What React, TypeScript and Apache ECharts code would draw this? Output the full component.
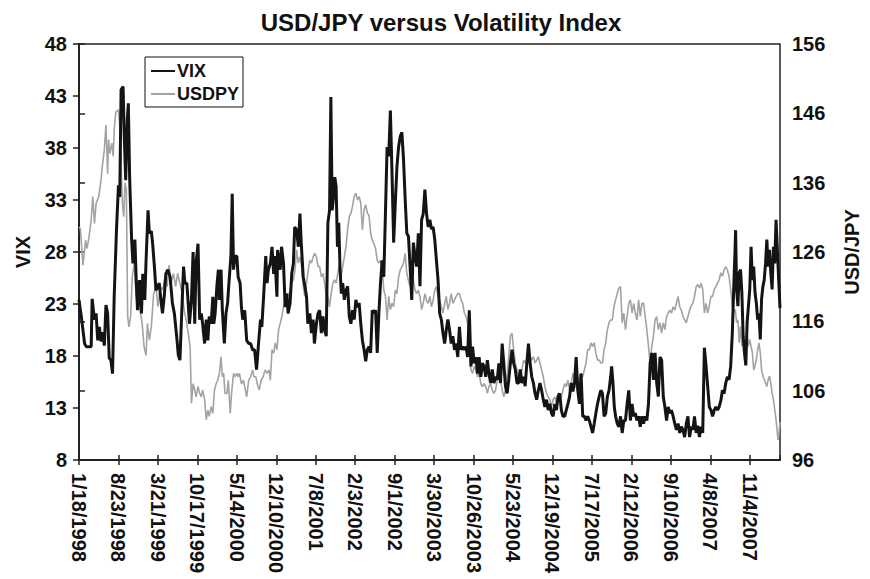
import React, { useEffect, useRef } from "react";
import * as echarts from "echarts";

// Observation index (0 = 1/18/1998, weekly) — a label every 30 observations
const tickLabels = [
  "1/18/1998", "8/23/1998", "3/21/1999", "10/17/1999", "5/14/2000", "12/10/2000",
  "7/8/2001", "2/3/2002", "9/1/2002", "3/30/2003", "10/26/2003", "5/23/2004",
  "12/19/2004", "7/17/2005", "2/12/2006", "9/10/2006", "4/8/2007", "11/4/2007",
];
const LAST_INDEX = 533;

// VIX: [observation index, value]
const vix: number[][] = [
  [0,23.4],[1.75,21.8],[4.25,19.2],[5.5,18.9],[9.25,18.9],[10,23.5],[11.75,21.5],[13,22.1],[14.25,19.5],[15.5,20.8],
  [16.75,19.4],[18,20.3],[19.25,19],[20.5,22.9],[21.75,22.1],[23,17.8],[24.25,17.6],[25.5,16.3],[26.75,23.7],[28.5,30.1],
  [30,34.4],[31,33.3],[32,43.6],[33.5,43.9],[34.5,38.8],[35.5,34.9],[36.75,40.7],[37.5,42.3],[38.5,35.2],[40,29.2],
  [41,26.9],[42.5,29.2],[43.5,25.3],[44.5,22.4],[46,25.3],[47.5,22.1],[48.5,25.9],[50,23.4],[51,27.2],[52.5,32],
  [53.5,29.8],[55,30],[56,28.8],[57.5,26.3],[58.5,24.3],[60,24.7],[61,25],[62.5,23.1],[63.5,22.1],[65,24],
  [66,25.9],[67.5,26.3],[69.25,25.6],[71,23.1],[72.5,22.1],[74.25,19.9],[75.5,18.1],[76.75,17.6],[78,21.8],[79.5,26.6],
  [80.5,25],[82,25],[83,23.1],[84,21.1],[85.5,23.4],[86.75,28],[88,21.1],[89,26.9],[90.5,28.8],[91.75,21.5],
  [93,22.1],[94,21.1],[95.5,19.2],[96.75,21.5],[98,19.5],[99,21.8],[100.5,21.1],[101.75,23.7],[102.5,21.1],[103.5,22.1],
  [105,25],[106,26.3],[106.75,23.4],[108,26.3],[109,22.4],[110.5,19.2],[111.75,22.1],[113,23.1],[114,25],[115.5,27.6],
  [116.5,33.6],[117.5,26.3],[118.5,27.6],[120,27.6],[121,25.6],[122.5,25],[123.5,22.7],[124.5,21.5],[126,22.4],[127.5,19.5],
  [129,19.2],[130.5,19.2],[132,18.6],[133.5,18.6],[135,16.7],[136.5,19.2],[138,21.5],[139,20.8],[140.5,24],[142,27.6],
  [143,25],[144,26.3],[145.5,26.9],[146.75,28.5],[148,25.9],[149,27.6],[150.5,23.7],[151,28.2],[153,26.3],[154,28.5],
  [155.5,26.9],[156.75,22.7],[158,24],[159,22.1],[160.5,23.1],[161.75,25.9],[163,26.9],[164,30.4],[165.5,30.1],[166.75,28.5],
  [168,31.7],[169,28.8],[170.5,25.6],[171.75,24.7],[173,23.7],[174,21.1],[175.5,22.1],[176.75,20.2],[178,21.5],[179,19.2],
  [180.5,21.1],[181.75,22.1],[183,22.4],[184.25,20.2],[185.5,21.8],[186.75,20.5],[188,19.9],[189.25,30.8],[190.5,32],[191.5,42.9],
  [192.5,32],[193.5,33.3],[194.5,35.2],[195.5,34.3],[196.5,28.5],[197.5,30.8],[198.5,26.3],[199.5,24],[200.5,25],[201.75,23.4],
  [203,24.3],[204.25,24.7],[205.5,21.8],[206.75,21.1],[208,22.4],[209.25,21.5],[210.5,23.4],[211.75,22.7],[213,23.1],[214.25,21.1],
  [215.5,19.5],[216.75,18.6],[218,17.5],[219.25,18.6],[220.5,18.9],[221.75,18.3],[223,22.4],[224.25,22.1],[225.5,22.4],[226.75,18.3],
  [228,22.1],[229.25,25],[230.5,27.2],[231.75,25.6],[233,31.7],[234.25,38.1],[235.5,37.2],[236.75,41.6],[238,35.6],[239.25,28.9],
  [240.5,32.7],[241.75,36.2],[243,38.1],[244.25,39.1],[245.5,39.5],[246.75,36.9],[248,33.1],[249.25,29.8],[250.5,29.5],[251.75,26.6],
  [253,23.4],[254.25,28.9],[255.5,27.6],[256.75,26.6],[258,29.8],[259.25,24.7],[260.5,31.1],[261.75,31.7],[263,34],[264.25,31.7],
  [265.5,30.4],[266.75,31.1],[268,30.2],[269.25,30.4],[270.5,29.2],[271.75,27.2],[273,25.3],[274.25,22.1],[275.5,21.5],[276.75,20.2],
  [278,19.2],[279.25,20.5],[280.5,21.5],[281.75,20.5],[283,19.2],[284.25,19.9],[285.5,18.6],[286.75,19.2],[288,17.9],
  [289.25,20.8],[290.5,18.6],[291.75,18.9],[293,18.6],[294.25,18.9],[295.5,17.9],[296.75,22.4],[298,17],[299.25,18.9],[300.5,17.3],
  [301.75,17.9],[303,16.3],[304.25,17.9],[305.5,16],[306.75,17.3],[308,17],[309.25,16],[310.5,17.6],[311.75,16.3],[313,15.4],
  [314.25,16.7],[315.5,15.4],[316.75,16],[318,15.7],[319.25,17.3],[320.5,15.4],[321.75,19.2],[323,17.3],[324.25,15.1],[325.5,14.4],
  [326.75,15.7],[328,17.3],[329.25,18.6],[330.5,17.3],[331.75,16.7],[333,15.4],[334.25,15.4],[335.5,16.7],[336.75,15.4],[338,16],
  [339.25,15.1],[340.5,17.3],[341.75,19.2],[343,17.3],[344.25,16],[345.5,15.4],[346.75,14.4],[348,13.8],[349.25,14.7],[350.5,15.4],
  [351.75,14.7],[353,13.8],[354.25,13.1],[355.5,13.8],[356.75,12.8],[358,13.4],[359.25,12.5],[360.5,12.2],[361.75,13.4],[363,12.8],
  [364.25,14.1],[365.5,14.4],[366.75,12.8],[368,12.2],[369.25,12.2],[370.5,12.8],[371.75,13.4],[373,14.1],[374.25,15.4],[375.5,14.6],
  [376.75,15.4],[378,17.9],[379.25,14.7],[380.5,13.4],[381.75,16.3],[383,12.2],[384.25,12.2],[385.5,11.8],[386.75,12.2],[388,11.8],
  [389.25,11.2],[390.5,10.6],[391.75,11.5],[393,12.5],[394.25,13.4],[395.5,14.1],[396.75,14.7],[398,14.4],[399.25,12.2],[400.5,12.5],
  [401.75,14.1],[403,14.7],[404.25,16],[405,17],[406,15.4],[407,13.1],[408,12.2],[409.25,11.5],[410.5,11.2],[411.75,12.2],
  [413,10.6],[414.25,11.8],[415.5,11.8],[416.75,13.4],[418,14.7],[419.25,11.8],[420.5,13.4],[421.75,12.2],[423,12.5],[424.25,11.8],
  [425.5,12.2],[426.75,11.2],[428,12.2],[429.25,11.5],[430.5,12.2],[431.75,11.8],[433,13.4],[434.25,17.3],[435.5,18.3],[436.75,15.7],
  [438,18.3],[439.25,15.4],[440.5,14.1],[441.75,17.9],[443,17.6],[444.25,14.1],[445.5,13.1],[446.75,11.8],[448,13.1],[449.25,12.5],
  [450.5,12.8],[451.75,12.2],[453,11.5],[454.25,10.9],[455.5,11.5],[456.75,10.6],[458,11.2],[459.25,10.9],[460.5,10.2],[461.75,11.5],
  [463,12.2],[464.25,10.2],[465.5,11.2],[466.75,10.9],[468,12.2],[469.25,10.6],[470.5,11.3],[471.75,10.2],[473,11.2],[474.25,10.6],
  [475.5,18.8],[476.75,17.1],[478,15.1],[479.25,13.1],[480.5,12.8],[481.75,12.2],[483,12.8],[484.25,13.1],[485.5,12.8],[486.75,13.1],
  [488,13.7],[489.25,14.7],[490.5,14.4],[491.75,15.4],[493,16],[494.25,15.7],[495.5,17],[496.75,20.2],[498,25.3],[498.75,27.9],
  [499.25,30.1],[500,24.4],[501,22.8],[502,26],[503,26.3],[504,24.1],[505,19.9],[506,18.3],[507,17.1],[508,21.2],
  [509,22.8],[510,24.4],[511,28.5],[512,25.3],[513,26.6],[514,24.1],[515,23.1],[516,21.5],[517,22.1],[518,19.6],
  [519,23.5],[520,24.7],[521,25.3],[522,26.9],[523,29.2],[524,26.6],[525,28.2],[526,26],[527,24.4],[528,28.5],
  [529,26.9],[530,31.1],[531,28.2],[532,25.3],[533,22.6],
];

// USD/JPY: [observation index, value]
const usdjpy: number[][] = [
  [0,129.6],[1,129.4],[3,124.1],[4.25,126.3],[5,127.7],[6,126.5],[7.5,128],[9.25,130.6],[10.5,134],[11.75,130.1],
  [13,133],[15,134],[16.75,136.4],[18,138.8],[19.25,140.7],[20.5,144.3],[21.75,137.3],[22.5,142.2],[23.5,140.2],[25,141.7],
  [26,139.8],[26.75,143.6],[28,146.2],[30,146.5],[31,144.1],[32,138.8],[33,133],[34,131.1],[35,136],[36,135],
  [37,116.7],[38,115.2],[39.25,116.7],[40.5,122.4],[42,124.4],[43.5,119.6],[45,120.5],[46.5,117.6],[48,115.7],[49.5,112.3],
  [51,111.1],[52,115.7],[53.5,113.3],[55,115.2],[56.75,120],[58.5,121],[60,118.1],[61.75,121],[63.5,120.5],[65.5,122.4],
  [67,121],[68.5,124.1],[70,121.5],[71.75,122.9],[73.5,121],[75,122.9],[76.75,121.5],[78.5,120],[80,117.6],[81.5,116.2],
  [83,114.4],[84.5,112.3],[85.5,104.2],[86.75,107],[88,106.1],[89,105.1],[90.5,106.6],[91.75,105.6],[93,105.1],[94,106.1],
  [95.5,104.7],[96.75,101.8],[98,103.2],[99,102.3],[100.5,103.7],[101.75,102.7],[103,106.1],[104.25,107],[105.5,107.5],[106.75,108.5],
  [108,110.9],[109,108],[110,108.5],[111,105.6],[112.5,105.6],[113.5,107.5],[115,102.7],[116,105.6],[117.5,108.5],[118.5,108],
  [120,108.5],[121,108],[122,108.5],[123.5,107],[125,107.5],[126.5,106.1],[127.5,105.1],[129,107.5],[130.5,108],[132,109],
  [133,108],[134.5,108],[136,106.6],[137,106.1],[138.5,107.5],[140,108],[141.5,109],[143,108.5],[144.5,109],[145.5,107.5],
  [146.75,111.9],[148,111.4],[149.25,112.9],[150.5,111.9],[151.75,114.8],[153,115.7],[154.25,116.7],[155.5,118.1],[156.75,119.1],[158,120],
  [159.25,119.6],[160.5,120.5],[161.75,121.5],[163,122],[164.25,123.4],[165.5,126.3],[166.75,124.4],[168,125.3],[169.25,123.9],[170.5,121],
  [171.75,119.6],[173,121.5],[174.25,123.4],[175.5,124.8],[176.75,124.4],[178,125.3],[179.25,125.8],[180.5,125.3],[181.75,123.9],[183,123.9],
  [184.25,122.4],[185.5,122.9],[186.75,121.5],[188,119.6],[189.25,119.6],[190.5,118.1],[191.75,120],[193,121.5],[194.25,122],[195.5,121.5],
  [196.75,122.9],[198,124.4],[199.25,122.4],[200.5,123.9],[201.75,125.3],[203,126.8],[204.25,129.2],[205.5,131.1],[206.75,131.6],[208,132.6],
  [209.25,134],[210.5,134.5],[211.75,133.5],[213,134],[214.25,133],[215.5,129.2],[216.75,132.1],[218,132.8],[219.25,131.6],[220.5,131.3],
  [221.75,128.7],[223,127.7],[224.25,127.2],[225.5,126.5],[226.75,124.8],[228,124.4],[229.25,124.8],[230.5,123.6],[231.75,120.5],[233,119.6],
  [234.25,116.2],[235.5,119.6],[236.75,117.7],[238,118.6],[239.25,118.1],[240.5,120.5],[241.75,120],[243,122.4],[244.25,123.4],[245.5,123.9],
  [246.75,124.4],[248,125.8],[249.25,122.9],[250.5,121.9],[251.75,121],[253,123.9],[254.25,121.9],[255.5,120.5],[256.75,120],[258,120.5],
  [259.25,119.6],[260.5,117.7],[261.75,118.6],[263,120],[264.25,119],[265.5,118.6],[266.75,119.6],[268,118.1],[269.25,119],[270.5,120.5],
  [271.75,121],[273,119.6],[274.25,119],[275.5,118.1],[276.75,117.2],[278,118.5],[279.25,119.6],[280.5,117.7],[281.75,118.6],[283,120],
  [284.25,118.6],[285.5,119.1],[286.75,119.6],[288,120],[289.25,120],[290.5,119.1],[291.75,118.6],[293,117.2],[294.25,116.7],[295.5,115.7],
  [296.75,112.4],[298,109],[299.25,108.5],[300.5,109.5],[301.75,109],[303,108],[304.25,108.5],[305.5,107],[306.75,106.6],[308,107],
  [309.25,106.6],[310.5,105.6],[311.75,106.6],[313,107],[314.25,106.1],[315.5,105.6],[316.75,106.1],[318,107.5],[319.25,108.5],[320.5,107.5],
  [321.75,106.1],[323,105.1],[324.25,106.1],[325.5,108],[326.75,110.9],[328,113.9],[329.25,114.3],[330.5,111.9],[331.75,110],[333,109],
  [334.25,108],[335.5,107.5],[336.75,109],[338,110.4],[339.25,110],[340.5,110.4],[341.75,110],[343,110.9],[344.25,110.4],[345.5,110.9],
  [346.75,110],[348,110.4],[349.25,110.9],[350.5,110],[351.75,109],[353,108],[354.25,106.6],[355.5,105.6],[356.75,105.1],[358,104.7],
  [359.25,103.7],[360.5,104.7],[361.75,105.1],[363,104.2],[364.25,105.6],[365.5,104.7],[366.75,105.1],[368,106.1],[369.25,107],[370.5,106.6],
  [371.75,107.5],[373,106.1],[374.25,107],[375.5,108.5],[376.75,107.8],[378,106.5],[379.25,106],[380.5,108],[381.75,108.5],[383,108],
  [384.25,109],[385.5,110],[386.75,111.9],[388,111.9],[389.25,112.9],[390.5,112.4],[391.75,112.9],[393,111.4],[394.25,110.4],[395.5,110.4],
  [396.75,110],[398,110],[399.25,111.9],[400.5,112.9],[401.75,114.8],[403,115.8],[404.25,116.2],[405.5,116.2],[406.75,118.1],[408,119.1],
  [409.25,120],[410.5,120.8],[411.75,121],[413,115.8],[414.25,117.2],[415.5,114.8],[416.75,116.7],[418,118.6],[419.25,119.1],[420.5,117.2],
  [421.75,118.6],[423,117.2],[424.25,116.2],[425.5,119.1],[426.75,116.7],[428,118.6],[429.25,118.6],[430.5,116.7],[431.75,114.8],[433,112.4],
  [434.25,110],[435.5,112.4],[436.75,113.8],[438,116.2],[439.25,116.7],[440.5,114.8],[441.75,115.8],[443,114.3],[444.25,115.8],[445.5,114.8],
  [446.75,116.7],[448,117.2],[449.25,117.6],[450.5,117.2],[451.75,118.1],[453,117.6],[454.25,118.6],[455.5,119.6],[456.75,118.1],[458,117.6],
  [459.25,116.7],[460.5,116.2],[461.75,115.8],[463,116.7],[464.25,117.6],[465.5,118.3],[466.75,118.6],[468,119.6],[469.25,121],[470.5,121.3],
  [471.75,120.8],[473,121.5],[474.25,120.6],[475.5,117.2],[476.75,118.6],[478,117.2],[479.25,118.2],[480.5,119.6],[481.75,119.6],[483,120.6],
  [484.25,121],[485.5,121.5],[486.75,122],[488,123],[489.25,122.5],[490.5,123.4],[491.75,123.9],[493,123.4],[494.25,122.5],[495.5,120.6],
  [496.75,118.2],[498,117.2],[499,117.7],[500,115.8],[501,116.2],[502,112.9],[503,115.3],[504,112.4],[505,113.4],[506,111.9],
  [507,112.9],[508,113.9],[509,112.4],[510,113.4],[511,112.4],[512,111.5],[513,109],[514,109.5],[515,110.5],[516,111.9],
  [517,112.9],[518,111.5],[519,109],[520,108.1],[521,107.6],[522,107.1],[523,106.6],[524,107.6],[525,108.1],[526,107.1],
  [527,105.6],[528,104.7],[529,103.3],[530,101.8],[531,99.9],[531.5,98.9],[532,99.4],[533,101.5],
];

const FONT = '"Liberation Sans", Arial, Helvetica, sans-serif';

export default function App() {
  const ref = useRef<HTMLDivElement>(null);
  useEffect(() => {
    if (!ref.current) return;
    const chart = echarts.init(ref.current, undefined, { renderer: "svg" });
    const xLabel = (v: number) => {
      const i = Math.round(v / 30);
      if (Math.abs(v - i * 30) > 0.001 || i < 0 || i >= tickLabels.length) return "";
      return tickLabels[i];
    };
    const baseX = {
      type: "value" as const,
      min: 0,
      max: LAST_INDEX,
      interval: 30,
      splitLine: { show: false },
      position: "bottom" as const,
    };
    chart.setOption({
      animation: false,
      backgroundColor: "#fff",
      textStyle: { fontFamily: FONT },
      title: {
        text: "USD/JPY versus Volatility Index",
        left: 436,
        textAlign: "center",
        top: 5,
        textStyle: { fontFamily: FONT, fontSize: 24, fontWeight: "bold", color: "#111" },
      },
      legend: {
        left: 145,
        top: 57,
        orient: "vertical",
        itemGap: 5,
        itemWidth: 24,
        itemHeight: 14,
        padding: [5, 4, 4, 5],
        borderColor: "#111",
        borderWidth: 1,
        itemStyle: { opacity: 0 },
        textStyle: { fontFamily: FONT, fontSize: 18, fontWeight: "bold", color: "#111", padding: [0, 0, 0, -3] },
        data: ["VIX", "USDPY"],
      },
      grid: {
        left: 79,
        right: 79,
        top: 44,
        bottom: 119,
        show: true,
        borderColor: "#222",
        borderWidth: 1.5,
      },
      xAxis: [
        {
          ...baseX,
          axisLine: { show: true, lineStyle: { color: "#222", width: 2 } },
          axisTick: { show: true, length: 5, lineStyle: { color: "#222", width: 1.5 } },
          axisLabel: {
            rotate: -90,
            margin: 13,
            fontFamily: FONT,
            fontSize: 20,
            fontWeight: "bold",
            color: "#111",
            showMaxLabel: false,
            formatter: xLabel,
          },
        },
        {
          ...baseX,
          axisLine: { show: false },
          axisTick: { show: true, inside: true, length: 5, lineStyle: { color: "#222", width: 1.5 } },
          axisLabel: { show: false },
        },
      ],
      yAxis: [
        {
          type: "value",
          position: "left",
          min: 8,
          max: 48,
          interval: 5,
          name: "VIX",
          nameLocation: "middle",
          nameRotate: 90,
          nameGap: 46,
          nameTextStyle: { fontFamily: FONT, fontSize: 20, fontWeight: "bold", color: "#111" },
          splitLine: { show: false },
          axisLine: { show: true, lineStyle: { color: "#222", width: 2 } },
          axisTick: { show: true, length: 6, lineStyle: { color: "#222", width: 1.5 } },
          axisLabel: { margin: 12, fontFamily: FONT, fontSize: 20, fontWeight: "bold", color: "#111" },
        },
        {
          type: "value",
          position: "right",
          min: 96,
          max: 156,
          interval: 10,
          name: "USD/JPY",
          nameLocation: "middle",
          nameRotate: 90,
          nameGap: 62,
          nameTextStyle: { fontFamily: FONT, fontSize: 20, fontWeight: "bold", color: "#111" },
          splitLine: { show: false },
          axisLine: { show: true, lineStyle: { color: "#222", width: 2 } },
          axisTick: { show: true, length: 6, lineStyle: { color: "#222", width: 1.5 } },
          axisLabel: { margin: 12, fontFamily: FONT, fontSize: 20, fontWeight: "bold", color: "#111" },
        },
      ],
      series: [
        {
          name: "USDPY",
          type: "line",
          xAxisIndex: 0,
          yAxisIndex: 1,
          data: usdjpy,
          symbol: "none",
          lineStyle: { color: "#a3a3a3", width: 1.6 },
          itemStyle: { color: "#a3a3a3" },
          z: 2,
        },
        {
          name: "VIX",
          type: "line",
          xAxisIndex: 0,
          yAxisIndex: 0,
          data: vix,
          symbol: "none",
          lineStyle: { color: "#141414", width: 3 },
          itemStyle: { color: "#141414" },
          z: 3,
        },
      ],
    });
    return () => chart.dispose();
  }, []);
  return <div ref={ref} style={{ position: "fixed", left: 0, top: 0, width: 870, height: 579 }} />;
}
